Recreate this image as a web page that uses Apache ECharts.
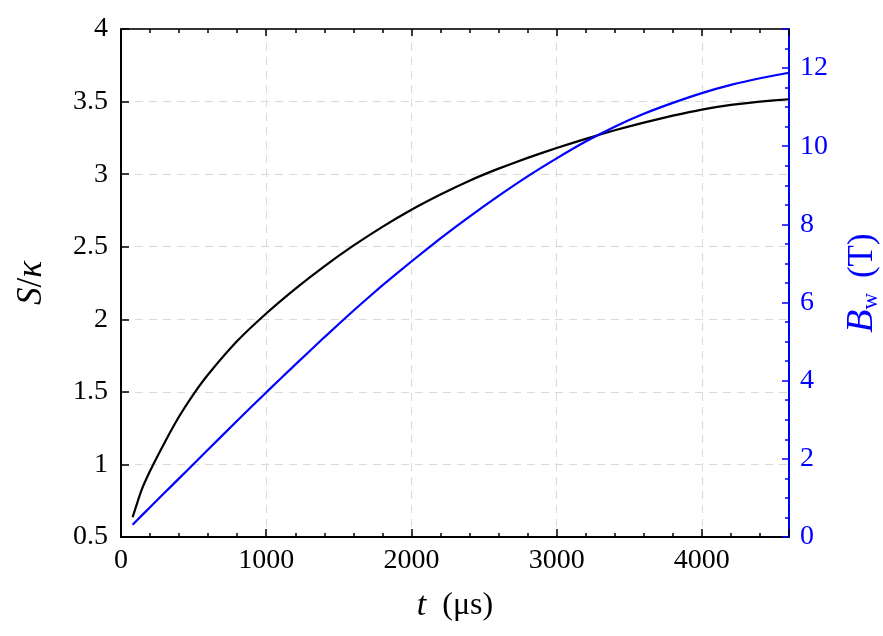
<!DOCTYPE html>
<html>
<head>
<meta charset="utf-8">
<script src="https://cdn.jsdelivr.net/npm/echarts@6/dist/echarts.min.js"></script>
<style>
html,body{margin:0;padding:0;background:#fff;}
#main{width:883px;height:636px;}
</style>
</head>
<body>
<div id="main"></div>
<script>
// time in microseconds
var tValues = [80, 140, 200, 300, 400, 500, 600, 800, 1000, 1200, 1400, 1600, 1800, 2000, 2200, 2400, 2600, 2800, 3000, 3200, 3400, 3600, 3800, 4000, 4200, 4400, 4600];
// S/kappa (left axis)
var sKappa = [0.636, 0.82, 0.955, 1.15, 1.33, 1.485, 1.62, 1.85, 2.04, 2.21, 2.365, 2.507, 2.637, 2.755, 2.86, 2.955, 3.038, 3.112, 3.18, 3.243, 3.302, 3.355, 3.403, 3.445, 3.477, 3.500, 3.516];
// B_w in tesla (right axis)
var bWall = [0.315, 0.54, 0.76, 1.13, 1.50, 1.87, 2.24, 2.975, 3.70, 4.41, 5.11, 5.79, 6.44, 7.05, 7.64, 8.20, 8.73, 9.23, 9.69, 10.12, 10.50, 10.83, 11.11, 11.36, 11.57, 11.74, 11.88];
var xTickLabels = [0, 1000, 2000, 3000, 4000];
var leftTickLabels = [0.5, 1, 1.5, 2, 2.5, 3, 3.5, 4];
var rightTickLabels = [0, 2, 4, 6, 8, 10, 12];

var FONT = 'Liberation Serif';
var BLUE = '#0000ff';

function pairs(xs, ys) { return xs.map(function (x, i) { return [x, ys[i]]; }); }

var chart = echarts.init(document.getElementById('main'), null, {renderer: 'canvas'});
var xBase = {type: 'value', min: 0, max: 4600};
chart.setOption({
  backgroundColor: '#fff',
  animation: false,
  grid: {left: 121, right: 94, top: 29, bottom: 99, containLabel: false, outerBoundsMode: 'none'},
  xAxis: [
    Object.assign({}, xBase, {
      position: 'bottom', interval: 1000,
      name: '{i|t}  (μs)', nameLocation: 'middle', nameGap: 52,
      nameTextStyle: {fontFamily: FONT, fontSize: 32, color: '#000',
        rich: {i: {fontFamily: FONT, fontStyle: 'italic', fontSize: 34, color: '#000'}}},
      axisLine: {show: true, onZero: false, lineStyle: {color: '#000', width: 2}},
      axisTick: {show: true, inside: true, length: 8, lineStyle: {color: '#000', width: 1.5}},
      axisLabel: {show: true, margin: 10, fontFamily: FONT, fontSize: 28, color: '#000',
        formatter: function (v) { return xTickLabels.indexOf(v) >= 0 ? String(v) : ''; }},
      splitLine: {show: true, lineStyle: {color: '#dadada', width: 1, type: [8, 6]}}
    }),
    Object.assign({}, xBase, {
      position: 'bottom', interval: 200,
      axisLine: {show: false, onZero: false},
      axisTick: {show: true, inside: true, length: 4, lineStyle: {color: '#000', width: 1.5}},
      axisLabel: {show: false}, splitLine: {show: false}
    }),
    Object.assign({}, xBase, {
      position: 'top', interval: 1000,
      axisLine: {show: true, onZero: false, lineStyle: {color: '#333', width: 2}},
      axisTick: {show: true, inside: true, length: 7, lineStyle: {color: '#000', width: 1.5}},
      axisLabel: {show: false}, splitLine: {show: false}
    }),
    Object.assign({}, xBase, {
      position: 'top', interval: 200,
      axisLine: {show: false, onZero: false},
      axisTick: {show: true, inside: true, length: 4, lineStyle: {color: '#000', width: 1.5}},
      axisLabel: {show: false}, splitLine: {show: false}
    })
  ],
  yAxis: [
    {
      type: 'value', position: 'left', min: 0.5, max: 4, interval: 0.5,
      name: '{i|S}/{i|κ}', nameLocation: 'middle', nameGap: 72, nameRotate: 90,
      nameTextStyle: {fontFamily: FONT, fontSize: 35, color: '#000',
        rich: {i: {fontFamily: FONT, fontStyle: 'italic', fontSize: 35, color: '#000'}}},
      axisLine: {show: true, onZero: false, lineStyle: {color: '#000', width: 2}},
      axisTick: {show: true, inside: true, length: 8, lineStyle: {color: '#000', width: 1.5}},
      axisLabel: {show: true, margin: 13, fontFamily: FONT, fontSize: 28, color: '#000',
        formatter: function (v) { return leftTickLabels.indexOf(v) >= 0 ? String(v) : ''; }},
      splitLine: {show: true, lineStyle: {color: '#dadada', width: 1, type: [8, 6]}}
    },
    {
      type: 'value', position: 'right', min: 0, max: 13, interval: 2,
      name: '{i|B}{s|w} (T)', nameLocation: 'middle', nameGap: 54, nameRotate: 90,
      nameTextStyle: {fontFamily: FONT, fontSize: 35, color: BLUE,
        rich: {
          i: {fontFamily: FONT, fontStyle: 'italic', fontSize: 38, color: BLUE},
          s: {fontFamily: FONT, fontSize: 23, color: BLUE, padding: [16, 6, 0, 0]}
        }},
      axisLine: {show: true, onZero: false, lineStyle: {color: BLUE, width: 2}},
      axisTick: {show: true, inside: true, length: 7, lineStyle: {color: BLUE, width: 1.5}},
      axisLabel: {show: true, margin: 11, fontFamily: FONT, fontSize: 28, color: BLUE,
        formatter: function (v) { return rightTickLabels.indexOf(v) >= 0 ? String(v) : ''; }},
      splitLine: {show: false}
    },
    {
      type: 'value', position: 'right', min: 0, max: 13, interval: 0.5,
      axisLine: {show: false, onZero: false},
      axisTick: {show: true, inside: true, length: 4, lineStyle: {color: BLUE, width: 1.5}},
      axisLabel: {show: false}, splitLine: {show: false}
    }
  ],
  series: [
    {
      type: 'line', xAxisIndex: 0, yAxisIndex: 0, data: pairs(tValues, sKappa),
      showSymbol: false, smooth: 0.15, lineStyle: {color: '#000', width: 2.2}, z: 5
    },
    {
      type: 'line', xAxisIndex: 0, yAxisIndex: 1, data: pairs(tValues, bWall),
      showSymbol: false, smooth: 0.15, lineStyle: {color: BLUE, width: 2.2}, z: 5
    }
  ]
});
</script>
</body>
</html>
